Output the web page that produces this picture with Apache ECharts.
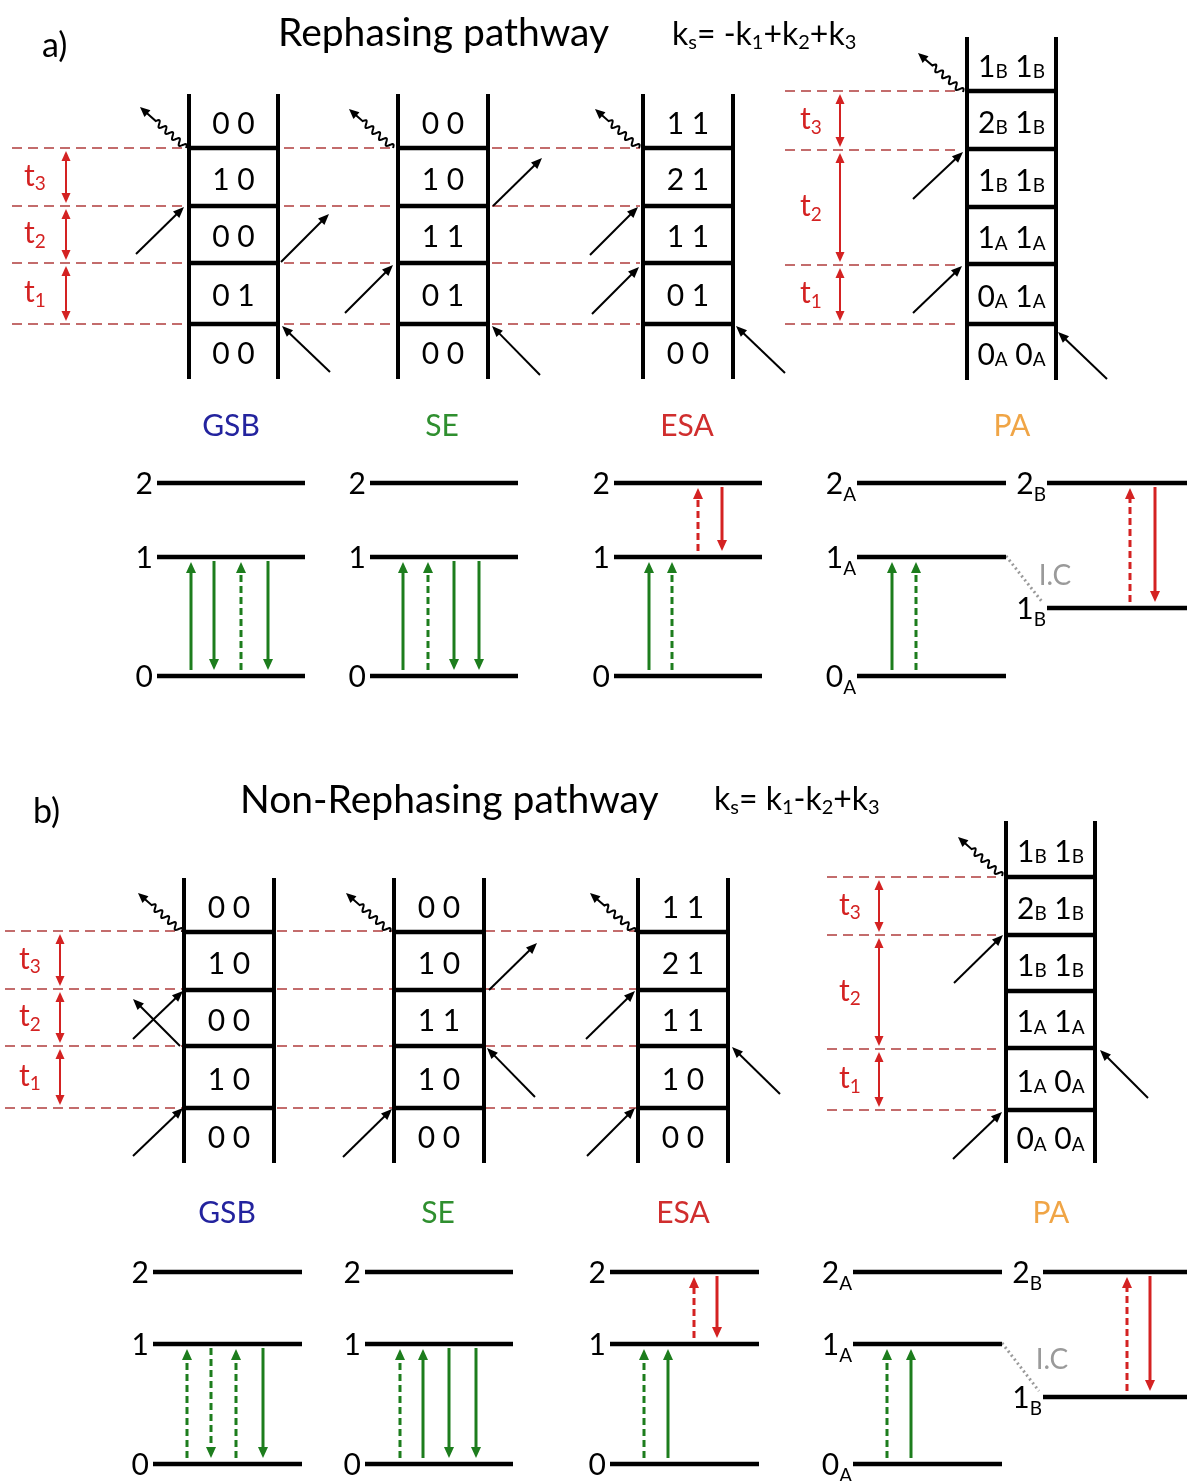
<!DOCTYPE html>
<html><head><meta charset="utf-8"><title>Rephasing and non-rephasing pathways</title>
<script src="https://cdn.jsdelivr.net/npm/echarts@6/dist/echarts.min.js"></script>
<style>html,body{margin:0;padding:0;background:#fff;}#chart{width:1187px;height:1481px;}</style>
</head><body><div id="chart"></div>
<script>
// ---------------- content (diagram units = reference pixels) ----------------
const textItems = [
  ['a)', 42, 46, 'tag'],
  ['Rephasing pathway', 278, 33, 'title'],
  ['k_s= -k_1+k_2+k_3', 672, 35, 'formula'],
  ['b)', 33, 812, 'tag'],
  ['Non-Rephasing pathway', 240, 800, 'title'],
  ['k_s= k_1-k_2+k_3', 714, 800, 'formula'],
  ['GSB', 231, 426, 'GSB'], ['SE', 442, 426, 'SE'], ['ESA', 687, 426, 'ESA'], ['PA', 1012, 426, 'PA'],
  ['GSB', 227, 1213, 'GSB'], ['SE', 438, 1213, 'SE'], ['ESA', 683, 1213, 'ESA'], ['PA', 1051, 1213, 'PA'],
  ['I.C', 1055, 576, 'ic'], ['I.C', 1052, 1360, 'ic']
];

const ladderStates = [
  ['0 0','1 0','0 0','0 1','0 0'],
  ['0 0','1 0','1 1','0 1','0 0'],
  ['1 1','2 1','1 1','0 1','0 0'],
  ['1_B 1_B','2_B 1_B','1_B 1_B','1_A 1_A','0_A 1_A','0_A 0_A'],
  ['0 0','1 0','0 0','1 0','0 0'],
  ['0 0','1 0','1 1','1 0','0 0'],
  ['1 1','2 1','1 1','1 0','0 0'],
  ['1_B 1_B','2_B 1_B','1_B 1_B','1_A 1_A','1_A 0_A','0_A 0_A']
];
// [left rail, right rail, top, bottom]
const ladderFrames = [
  [189, 278, 94, 379], [398, 488, 94, 379], [643, 733, 94, 379], [967, 1056, 37, 380],
  [184, 274, 878, 1163], [394, 484, 878, 1163], [638, 728, 878, 1163], [1006, 1095, 821, 1163]
];
const ladderRungs = [
  [148, 206, 263, 324], [148, 206, 263, 324], [148, 206, 263, 324], [91, 149, 207, 264, 324],
  [932, 990, 1046, 1108], [932, 990, 1046, 1108], [932, 990, 1046, 1108], [877, 935, 991, 1048, 1110]
];
// field interactions: [tailX, tailY, tipX, tipY, isSignal]
const interactions = [
  [186,148,140,107,1],[136,254,184,207,0],[281,262,329,214,0],[330,372,282,326,0],
  [393,148,349,109,1],[345,313,393,265,0],[493,206,542,158,0],[540,375,492,326,0],
  [639,148,595,109,1],[590,255,638,207,0],[592,314,639,267,0],[785,373,736,326,0],
  [963,92,918,53,1],[913,199,963,152,0],[913,313,962,266,0],[1107,379,1058,332,0],
  [182,932,138,893,1],[133,1039,183,991,0],[180,1046,133,999,0],[133,1156,183,1108,0],
  [390,932,346,893,1],[489,990,537,943,0],[535,1097,487,1048,0],[343,1157,392,1109,0],
  [635,932,590,893,1],[586,1039,635,991,0],[780,1094,732,1047,0],[587,1156,635,1108,0],
  [1002,876,958,837,1],[954,983,1003,935,0],[1148,1098,1100,1050,0],[953,1159,1002,1112,0]
];
// dashed time-ordering guides: [x0, x1, y]
const timeGuides = [
  [12,640,148],[12,640,206],[12,640,263],[12,640,324],
  [785,958,91],[785,958,150],[785,958,265],[785,958,324],
  [5,636,931],[5,636,989],[5,636,1046],[5,636,1108],
  [827,996,877],[827,996,935],[827,996,1049],[827,996,1110]
];
// delays: [x, yStart, yEnd, labelX]
const delayArrows = [
  [66,148,206,35],[66,206,263,35],[66,263,324,35],
  [840,91,150,811],[840,150,265,811],[840,265,324,811],
  [60,931,989,30],[60,989,1046,30],[60,1046,1108,30],
  [879,877,935,850],[879,935,1049,850],[879,1049,1110,850]
];
const delayNames = ['t_3','t_2','t_1','t_3','t_2','t_1','t_3','t_2','t_1','t_3','t_2','t_1'];

// energy levels: [x0, x1, y]
const energyLevels = [
  [157,305,483],[157,305,557],[157,305,676],
  [370,518,483],[370,518,557],[370,518,676],
  [614,762,483],[614,762,557],[614,762,676],
  [857,1006,483],[857,1006,557],[857,1006,676],[1047,1187,483],[1047,1187,608],
  [153,302,1272],[153,302,1344],[153,302,1464],
  [365,513,1272],[365,513,1344],[365,513,1464],
  [610,759,1272],[610,759,1344],[610,759,1464],
  [853,1002,1272],[853,1002,1344],[853,1002,1464],[1043,1187,1272],[1043,1187,1397]
];
const levelNames = [
  '2','1','0','2','1','0','2','1','0','2_A','1_A','0_A','2_B','1_B',
  '2','1','0','2','1','0','2','1','0','2_A','1_A','0_A','2_B','1_B'
];
// transitions: [x, fromY, toY, isDashed(bra side), isExcitedState(1=red)]
const transitions = [
  [191,676,557,0,0],[214,557,676,0,0],[241,676,557,1,0],[268,557,676,0,0],
  [403,676,557,0,0],[428,676,557,1,0],[454,557,676,0,0],[479,557,676,0,0],
  [649,676,557,0,0],[672,676,557,1,0],[698,557,483,1,1],[722,483,557,0,1],
  [892,676,557,0,0],[916,676,557,1,0],[1130,608,483,1,1],[1155,483,608,0,1],
  [187,1464,1344,1,0],[211,1344,1464,1,0],[236,1464,1344,1,0],[263,1344,1464,0,0],
  [400,1464,1344,1,0],[423,1464,1344,0,0],[449,1344,1464,0,0],[476,1344,1464,0,0],
  [644,1464,1344,1,0],[668,1464,1344,0,0],[694,1344,1272,1,1],[717,1272,1344,0,1],
  [887,1464,1344,1,0],[911,1464,1344,0,0],[1127,1397,1272,1,1],[1150,1272,1397,0,1]
];
// internal conversion links 1A -> 1B
const icLinks = [[1006,556,1043,603],[1002,1343,1039,1391]];

// ---------------- styles ----------------
const FONT = 'Lato, "Open Sans", sans-serif';
const COLORS = {
  black: '#000000', green: '#1d7d1d', red: '#d42222', guide: '#b03c3c',
  GSB: '#23239e', SE: '#2f8f2f', ESA: '#d02e2e', PA: '#f0a546', ic: '#9a9a9a'
};
const ROLE = {
  tag: {size: 34, color: COLORS.black, align: 'left'},
  title: {size: 39, color: COLORS.black, align: 'left'},
  formula: {size: 32, sub: 20, d: 5, color: COLORS.black, align: 'left'},
  GSB: {size: 30, color: COLORS.GSB}, SE: {size: 30, color: COLORS.SE},
  ESA: {size: 30, color: COLORS.ESA}, PA: {size: 30, color: COLORS.PA},
  ic: {size: 28, color: COLORS.ic}
};

function subMarkup(s) { return s.replace(/_(\w)/g, '{s|$1}'); }
function textEl(p, str, o) {
  const L = o.size, d = o.d || 0, sub = o.sub || Math.round(o.size * 0.64);
  const h = Math.max(6, L - 2 * d - 6);
  return {
    type: 'text', x: p[0], y: p[1],
    style: {
      text: subMarkup(str), fill: o.color, fontFamily: FONT, fontSize: o.size,
      lineHeight: L, align: o.align || 'center', verticalAlign: 'middle',
      rich: {s: {fill: o.color, fontFamily: FONT, fontSize: sub, height: h, lineHeight: h, verticalAlign: 'bottom'}}
    }
  };
}
function seg(a, b, color, lw, dash) {
  return {type: 'line', shape: {x1: a[0], y1: a[1], x2: b[0], y2: b[1]},
    style: {stroke: color, lineWidth: lw, lineDash: dash || null, fill: null}};
}
function head(tip, ux, uy, hl, hw, color) {
  const bx = tip[0] - ux * hl, by = tip[1] - uy * hl;
  return {type: 'polygon', shape: {points: [[tip[0], tip[1]], [bx - uy * hw / 2, by + ux * hw / 2], [bx + uy * hw / 2, by - ux * hw / 2]]},
    style: {fill: color}};
}
function arrowEls(a, b, o) {
  const dx = b[0] - a[0], dy = b[1] - a[1], L = Math.hypot(dx, dy), ux = dx / L, uy = dy / L;
  const kids = [];
  let s = a;
  if (o.both) { kids.push(head(a, -ux, -uy, o.hl, o.hw, o.color)); s = [a[0] + ux * (o.hl - 1), a[1] + uy * (o.hl - 1)]; }
  const e = [b[0] - ux * (o.hl - 1), b[1] - uy * (o.hl - 1)];
  kids.push(seg(s, e, o.color, o.lw, o.dash));
  kids.push(head(b, ux, uy, o.hl, o.hw, o.color));
  return kids;
}
function wavyEls(a, b, color) {
  const dx = b[0] - a[0], dy = b[1] - a[1], L = Math.hypot(dx, dy), ux = dx / L, uy = dy / L, nx = -uy, ny = ux;
  const hl = 10, hw = 9, lam = 9, amp = 3;
  const waveLen = Math.floor((L - hl - 8) / (lam / 2)) * (lam / 2);
  const pts = [];
  for (let t = 0; t <= waveLen + 0.01; t += 0.5) {
    const w = amp * Math.sin(2 * Math.PI * t / lam);
    pts.push([a[0] + ux * t + nx * w, a[1] + uy * t + ny * w]);
  }
  pts.push([b[0] - ux * (hl - 1), b[1] - uy * (hl - 1)]);
  return [
    {type: 'polyline', shape: {points: pts}, style: {stroke: color, lineWidth: 2, fill: null}},
    head(b, ux, uy, hl, hw, color)
  ];
}

// ---------------- render functions ----------------
function renderGuide(params, api) {
  const a = api.coord([api.value(0), api.value(2)]), b = api.coord([api.value(1), api.value(2)]);
  return seg(a, b, COLORS.guide, 1.7, [10, 6]);
}
function renderLadder(params, api) {
  const i = params.dataIndex;
  const f = ladderFrames[i], rungs = ladderRungs[i], states = ladderStates[i];
  const kids = [];
  kids.push(seg(api.coord([f[0], f[2]]), api.coord([f[0], f[3]]), COLORS.black, 4));
  kids.push(seg(api.coord([f[1], f[2]]), api.coord([f[1], f[3]]), COLORS.black, 4));
  rungs.forEach(y => kids.push(seg(api.coord([f[0], y]), api.coord([f[1], y]), COLORS.black, 4.5)));
  const bounds = [f[2]].concat(rungs, [f[3]]);
  states.forEach((s, k) => {
    const ym = (bounds[k] + bounds[k + 1]) / 2 + 3;
    kids.push(textEl(api.coord([(f[0] + f[1]) / 2, ym]), s, {size: 30, sub: 19, d: 2, color: COLORS.black}));
  });
  return {type: 'group', children: kids};
}
function renderInteraction(params, api) {
  const a = api.coord([api.value(0), api.value(1)]), b = api.coord([api.value(2), api.value(3)]);
  const kids = api.value(4) ? wavyEls(a, b, COLORS.black)
    : arrowEls(a, b, {color: COLORS.black, lw: 2, hl: 11, hw: 9});
  return {type: 'group', children: kids};
}
function renderDelay(params, api) {
  const x = api.value(0), y0 = api.value(1), y1 = api.value(2), lx = api.value(3);
  const kids = arrowEls(api.coord([x, y0 + 3]), api.coord([x, y1 - 3]), {color: COLORS.red, lw: 2, hl: 10, hw: 9, both: true});
  kids.push(textEl(api.coord([lx, (y0 + y1) / 2 - 1]), delayNames[params.dataIndex], {size: 30, sub: 19, d: 5, color: COLORS.red}));
  return {type: 'group', children: kids};
}
function renderLevel(params, api) {
  const x0 = api.value(0), x1 = api.value(1), y = api.value(2);
  const name = levelNames[params.dataIndex];
  const subbed = name.indexOf('_') >= 0;
  return {type: 'group', children: [
    seg(api.coord([x0, y]), api.coord([x1, y]), COLORS.black, 4.5),
    textEl(api.coord([x0 - (subbed ? 1 : 4), y + 1]), name, {size: 30, sub: 19, d: 8, color: COLORS.black, align: 'right'})
  ]};
}
function renderTransition(params, api) {
  const x = api.value(0), yf = api.value(1), yt = api.value(2);
  const up = yt < yf;
  const ys = up ? yf - 6 : yf + 4, ye = up ? yt + 5 : yt - 6;
  const color = api.value(4) ? COLORS.red : COLORS.green;
  return {type: 'group', children: arrowEls(api.coord([x, ys]), api.coord([x, ye]),
    {color: color, lw: 3, hl: 11, hw: 10, dash: api.value(3) ? [7, 4] : null})};
}
function renderIC(params, api) {
  return seg(api.coord([api.value(0), api.value(1)]), api.coord([api.value(2), api.value(3)]), COLORS.ic, 3, [2, 3]);
}
function renderText(params, api) {
  const t = textItems[params.dataIndex];
  return textEl(api.coord([api.value(0), api.value(1)]), t[0], ROLE[t[3]]);
}

function custom(name, data, render, z) {
  return {type: 'custom', name: name, data: data, renderItem: render, clip: false, silent: true, z: z, animation: false};
}

const chart = echarts.init(document.getElementById('chart'), null, {renderer: 'canvas'});
chart.setOption({
  backgroundColor: '#ffffff',
  animation: false,
  grid: {left: 0, right: 0, top: 0, bottom: 0},
  xAxis: {type: 'value', min: 0, max: 1187, show: false},
  yAxis: {type: 'value', min: 0, max: 1481, inverse: true, show: false},
  series: [
    custom('guides', timeGuides, renderGuide, 1),
    custom('ladders', ladderFrames.map((f, i) => [f[0], f[2], i]), renderLadder, 3),
    custom('interactions', interactions, renderInteraction, 4),
    custom('delays', delayArrows, renderDelay, 4),
    custom('levels', energyLevels, renderLevel, 3),
    custom('transitions', transitions, renderTransition, 4),
    custom('ic', icLinks, renderIC, 2),
    custom('texts', textItems.map(t => [t[1], t[2]]), renderText, 5)
  ]
});
</script></body></html>
